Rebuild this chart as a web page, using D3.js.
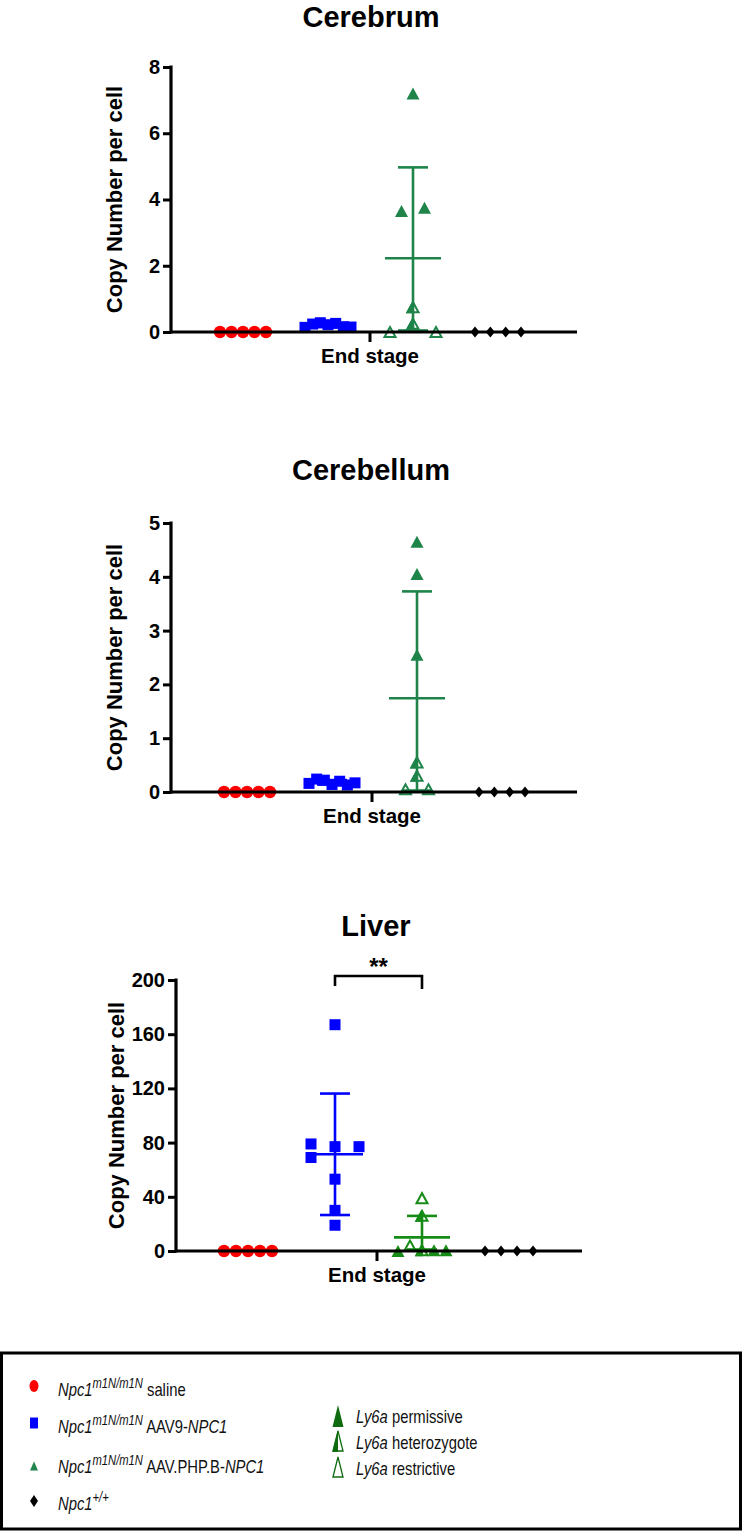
<!DOCTYPE html>
<html><head><meta charset="utf-8">
<script src="https://cdn.jsdelivr.net/npm/d3@7"></script>
<style>
body{margin:0;background:#fff}
svg{display:block}
text{font-family:"Liberation Sans",Arial,Helvetica,sans-serif}
</style>
</head><body>
<svg id="chart" width="742" height="1531"></svg>
<script>
// ---------------- DATA ----------------
const groupKeys = ["saline", "aav9", "phpb", "wt"];
const xCategory = ["End stage"];

// Cerebrum
const cerebrumTicks = [0, 2, 4, 6, 8];
const cerebrumSaline = [0, 0, 0, 0, 0];
const cerebrumAAV9 = [0.14, 0.24, 0.28, 0.22, 0.26, 0.16, 0.15];
const cerebrumPHPB = [0, 3.65, 7.2, 0.75, 0.25, 3.75, 0];
const cerebrumPHPBType = ["res", "perm", "perm", "het", "het", "perm", "res"];
const cerebrumPHPBSlot = [-2, -1, 0, 0, 0, 1, 2];
const cerebrumWT = [0, 0, 0, 0];

// Cerebellum
const cerebellumTicks = [0, 1, 2, 3, 4, 5];
const cerebellumSaline = [0, 0, 0, 0, 0];
const cerebellumAAV9 = [0.16, 0.24, 0.22, 0.14, 0.2, 0.13, 0.17];
const cerebellumPHPB = [0.05, 4.65, 4.05, 2.55, 0.55, 0.3, 0.05];
const cerebellumPHPBType = ["res", "perm", "perm", "perm", "het", "het", "res"];
const cerebellumPHPBSlot = [-1, 0, 0, 0, 0, 0, 1];
const cerebellumWT = [0, 0, 0, 0];

// Liver
const liverTicks = [0, 40, 80, 120, 160, 200];
const liverSaline = [0, 0, 0, 0, 0];
const liverAAV9 = [167, 79, 69, 77, 77, 53, 30, 19];
const liverAAV9Slot = [0, -2, -2, 0, 2, 0, 0, 0];
const liverPHPB = [0, 4, 39, 26, 0.5, 0.5, 0.5];
const liverPHPBType = ["perm", "res", "res", "het", "het", "perm", "perm"];
const liverPHPBSlot = [-2, -1, 0, 0, 0, 1, 2];
const liverWT = [0, 0, 0, 0];

// Legend
const legendGroups = [
  { sup: "m1N/m1N", plain: " saline", ital: "" },
  { sup: "m1N/m1N", plain: " AAV9-", ital: "NPC1" },
  { sup: "m1N/m1N", plain: " AAV.PHP.B-", ital: "NPC1" },
  { sup: "+/+", plain: "", ital: "" }
];
const legendGenotypes = [
  { key: "perm", label: " permissive" },
  { key: "het", label: " heterozygote" },
  { key: "res", label: " restrictive" }
];

// ---------------- STYLE / LAYOUT ----------------
const RED = "#ff0000", BLUE = "#0000ff", BLACK = "#000000";
const GREEN_BRAIN = "#1e8449", GREEN_LIVER = "#168c16", GREEN_LEGEND = "#0f6b10";

const svg = d3.select("#chart");

function evenSlots(n) { return d3.range(n).map(i => n === 1 ? 0 : -2 + 4 * i / (n - 1)); }

const panels = [
  {
    title: "Cerebrum", titleY: 27, yTop: 67, y0: 332, ax: 171, xEnd: 577,
    c0: 243, c3: 498, slot: 11.5, ticks: cerebrumTicks, green: GREEN_BRAIN,
    labelX: 115, bandShift: 8,
    series: [
      { key: "saline", values: cerebrumSaline },
      { key: "aav9", values: cerebrumAAV9 },
      { key: "phpb", values: cerebrumPHPB, type: cerebrumPHPBType, slots: cerebrumPHPBSlot },
      { key: "wt", values: cerebrumWT }
    ]
  },
  {
    title: "Cerebellum", titleY: 480, yTop: 523, y0: 792, ax: 171, xEnd: 577,
    c0: 247, c3: 502, slot: 11.5, ticks: cerebellumTicks, green: GREEN_BRAIN,
    labelX: 115, bandShift: 4,
    series: [
      { key: "saline", values: cerebellumSaline },
      { key: "aav9", values: cerebellumAAV9 },
      { key: "phpb", values: cerebellumPHPB, type: cerebellumPHPBType, slots: cerebellumPHPBSlot },
      { key: "wt", values: cerebellumWT }
    ]
  },
  {
    title: "Liver", titleY: 936, yTop: 980, y0: 1251, ax: 176, xEnd: 582,
    c0: 248, c3: 509, slot: 12, ticks: liverTicks, green: GREEN_LIVER,
    labelX: 117, bandShift: 4, sig: true,
    series: [
      { key: "saline", values: liverSaline },
      { key: "aav9", values: liverAAV9, slots: liverAAV9Slot },
      { key: "phpb", values: liverPHPB, type: liverPHPBType, slots: liverPHPBSlot },
      { key: "wt", values: liverWT }
    ]
  }
];

function triPath(cx, cy, w, h) {
  return `M${cx - w / 2},${cy + h / 2}L${cx},${cy - h / 2}L${cx + w / 2},${cy + h / 2}Z`;
}
function halfTriPath(cx, cy, w, h) {
  return `M${cx - w / 2},${cy + h / 2}L${cx},${cy - h / 2}L${cx},${cy + h / 2}Z`;
}

function drawTriangle(g, cx, cy, type, color, w, h) {
  if (type === "perm") {
    g.append("path").attr("d", triPath(cx, cy, w, h)).attr("fill", color);
  } else {
    const iw = w - 2, ih = h - 2;
    g.append("path").attr("d", triPath(cx, cy, iw, ih))
      .attr("fill", "#fff").attr("stroke", color).attr("stroke-width", 2).attr("stroke-linejoin", "miter");
    if (type === "het") {
      g.append("path").attr("d", halfTriPath(cx, cy, iw, ih)).attr("fill", color)
        .attr("stroke", color).attr("stroke-width", 2);
    }
  }
}

panels.forEach(p => {
  const g = svg.append("g");
  const maxV = p.ticks[p.ticks.length - 1];
  const y = d3.scaleLinear().domain([0, maxV]).range([p.y0, p.yTop]);
  const gx = d3.scalePoint().domain(groupKeys).range([p.c0, p.c3]);
  const sx = d3.scaleLinear().domain([0, 1]).range([0, p.slot]);

  // title
  g.append("text").attr("x", (p.ax + p.xEnd) / 2 - 3).attr("y", p.titleY)
    .attr("text-anchor", "middle").attr("font-weight", "bold").attr("font-size", 29)
    .text(p.title);

  // y label
  g.append("text")
    .attr("transform", `translate(${p.labelX + 7},${(p.y0 + p.yTop) / 2}) rotate(-90)`)
    .attr("text-anchor", "middle").attr("font-weight", "bold").attr("font-size", 22)
    .text("Copy Number per cell");

  // markers
  const colorFor = { saline: RED, aav9: BLUE, phpb: p.green, wt: BLACK };
  const markG = g.append("g");
  p.series.forEach(s => {
    const slots = s.slots || evenSlots(s.values.length);
    const cx0 = gx(s.key);
    s.values.forEach((v, i) => {
      const cx = cx0 + sx(slots[i]);
      const cy = y(v);
      const c = colorFor[s.key];
      if (s.key === "saline") {
        markG.append("circle").attr("cx", cx).attr("cy", cy).attr("r", 6.2).attr("fill", c);
      } else if (s.key === "aav9") {
        markG.append("rect").attr("x", cx - 5.5).attr("y", cy - 5.5).attr("width", 11).attr("height", 11).attr("fill", c);
      } else if (s.key === "wt") {
        markG.append("path").attr("d", `M${cx},${cy - 5.5}L${cx + 4.5},${cy}L${cx},${cy + 5.5}L${cx - 4.5},${cy}Z`).attr("fill", c);
      } else {
        drawTriangle(markG, cx, cy, s.type[i], c, 13, 12);
      }
    });
  });

  // mean ± SD for treated groups
  p.series.filter(s => s.key === "aav9" || s.key === "phpb").forEach(s => {
    const c = colorFor[s.key];
    const m = d3.mean(s.values), sd = d3.deviation(s.values);
    const cx = gx(s.key);
    const top = y(m + sd), bot = y(Math.max(0, m - sd)) - (m - sd < 0 ? 1.5 : 0);
    const eb = g.append("g").attr("stroke", c).attr("stroke-width", 2.6).attr("fill", "none");
    eb.append("line").attr("x1", cx).attr("x2", cx).attr("y1", top).attr("y2", bot);
    eb.append("line").attr("x1", cx - 28).attr("x2", cx + 28).attr("y1", y(m)).attr("y2", y(m));
    eb.append("line").attr("x1", cx - 15).attr("x2", cx + 15).attr("y1", top).attr("y2", top);
    eb.append("line").attr("x1", cx - 15).attr("x2", cx + 15).attr("y1", bot).attr("y2", bot);
  });

  // x axis
  const xb = d3.scaleBand().domain(xCategory).range([p.ax, p.xEnd - p.bandShift]);
  const xAxis = g.append("g").attr("transform", `translate(0,${p.y0})`)
    .call(d3.axisBottom(xb).tickSize(10).tickSizeOuter(0).tickPadding(6));
  xAxis.select(".domain").remove();
  xAxis.append("line").attr("x1", p.ax).attr("x2", p.xEnd).attr("y1", 0).attr("y2", 0)
    .attr("stroke", "#000").attr("stroke-width", 3.2);
  xAxis.selectAll(".tick line").attr("stroke", "#000").attr("stroke-width", 3);
  xAxis.selectAll(".tick text").attr("font-size", 20.5).attr("font-weight", "bold").attr("fill", "#000")
    .attr("font-family", '"Liberation Sans",Arial,sans-serif');

  // y axis
  const yAxis = g.append("g").attr("transform", `translate(${p.ax},0)`)
    .call(d3.axisLeft(y).tickValues(p.ticks).tickFormat(d3.format("d")).tickSize(8).tickSizeOuter(0).tickPadding(3));
  yAxis.select(".domain").attr("stroke", "#000").attr("stroke-width", 3.2)
    .attr("d", `M0,${p.yTop - 1.5}V${p.y0 + 1.5}`);
  yAxis.selectAll(".tick line").attr("stroke", "#000").attr("stroke-width", 3);
  yAxis.selectAll(".tick text").attr("font-size", 20).attr("font-weight", "bold").attr("fill", "#000")
    .attr("font-family", '"Liberation Sans",Arial,sans-serif');

  // significance bracket
  if (p.sig) {
    const x1 = gx("aav9"), x2 = gx("phpb");
    const by = p.yTop - 4;
    g.append("path").attr("d", `M${x1},${by + 10}V${by}H${x2}V${by + 13}`)
      .attr("fill", "none").attr("stroke", "#000").attr("stroke-width", 2.6);
    g.append("text").attr("x", (x1 + x2) / 2).attr("y", by - 1)
      .attr("text-anchor", "middle").attr("font-size", 24).attr("font-weight", "bold").text("**");
  }
});

// ---------------- LEGEND ----------------
const lg = svg.append("g");
lg.append("rect").attr("x", 1.5).attr("y", 1353).attr("width", 739).attr("height", 176)
  .attr("fill", "none").attr("stroke", "#000").attr("stroke-width", 3);

const legRowY = [1396, 1433, 1473, 1510];
const legMarkY = [1386, 1423, 1466, 1501];
const legendScale = 0.8;
legendGroups.forEach((d, i) => {
  const mx = 34, my = legMarkY[i];
  if (i === 0) lg.append("ellipse").attr("cx", mx).attr("cy", my).attr("rx", 4.5).attr("ry", 6).attr("fill", RED);
  if (i === 1) lg.append("rect").attr("x", mx - 4).attr("y", my - 5.5).attr("width", 8).attr("height", 11).attr("fill", BLUE);
  if (i === 2) lg.append("path").attr("d", triPath(mx, my, 8, 9)).attr("fill", GREEN_BRAIN);
  if (i === 3) lg.append("path").attr("d", `M${mx},${my - 6}L${mx + 4},${my}L${mx},${my + 6}L${mx - 4},${my}Z`).attr("fill", BLACK);

  const t = lg.append("text").attr("transform", `translate(58,${legRowY[i]}) scale(${legendScale},1)`)
    .attr("font-size", 18.5).attr("fill", "#111");
  t.append("tspan").attr("font-style", "italic").text("Npc1");
  t.append("tspan").attr("font-style", "italic").attr("font-size", 14).attr("dy", -8).text(d.sup);
  if (d.plain) t.append("tspan").attr("dy", 8).text(d.plain);
  if (d.ital) t.append("tspan").attr("font-style", "italic").text(d.ital);
});

const genoRowY = [1423, 1449, 1475];
const genoMarkY = [1416, 1441, 1467];
legendGenotypes.forEach((d, i) => {
  const mx = 338, my = genoMarkY[i];
  if (d.key === "perm") {
    lg.append("path").attr("d", triPath(mx, my, 11, 22)).attr("fill", GREEN_LEGEND);
  } else {
    lg.append("path").attr("d", triPath(mx, my, 10, 20)).attr("fill", "#fff")
      .attr("stroke", GREEN_LEGEND).attr("stroke-width", 1.3);
    if (d.key === "het") lg.append("path").attr("d", halfTriPath(mx, my, 11, 22)).attr("fill", GREEN_LEGEND);
  }
  const t = lg.append("text").attr("transform", `translate(356,${genoRowY[i]}) scale(${legendScale},1)`)
    .attr("font-size", 18.5).attr("fill", "#111");
  t.append("tspan").attr("font-style", "italic").text("Ly6a");
  t.append("tspan").text(d.label);
});
</script>
</body></html>
